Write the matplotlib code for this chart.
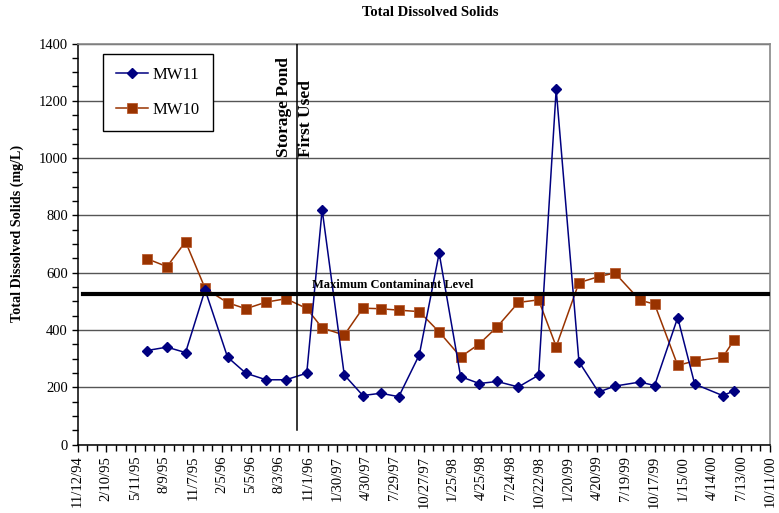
import datetime as dt
import matplotlib
matplotlib.use("Agg")
import matplotlib.pyplot as plt
import matplotlib.dates as mdates
from matplotlib.ticker import FixedLocator, MultipleLocator

plt.rcParams["font.family"] = ["Liberation Serif", "DejaVu Serif"]

# Sampling dates (shared by both wells)
sample_dates = [
    "1995-06-16", "1995-08-18", "1995-10-15", "1995-12-15", "1996-02-23",
    "1996-04-20", "1996-06-22", "1996-08-23", "1996-10-27", "1996-12-14",
    "1997-02-21", "1997-04-20", "1997-06-15", "1997-08-10", "1997-10-13",
    "1997-12-14", "1998-02-19", "1998-04-18", "1998-06-13", "1998-08-18",
    "1998-10-20", "1998-12-14", "1999-02-23", "1999-04-25", "1999-06-15",
    "1999-09-01", "1999-10-17", "1999-12-28", "2000-02-19", "2000-05-16",
    "2000-06-21",
]

# Total dissolved solids, mg/L
mw11 = [328, 340, 321, 540, 305, 249, 226, 226, 249, 820,
        243, 171, 179, 167, 313, 668, 237, 213, 220, 201,
        242, 1240, 289, 183, 204, 218, 206, 443, 211, 171,
        187]
mw10 = [649, 621, 708, 545, 495, 474, 497, 509, 475, 407,
        382, 476, 474, 469, 464, 393, 306, 351, 411, 496,
        505, 342, 565, 586, 599, 504, 490, 276, 292, 304,
        365]

mcl_value = 526
pond_date = "1996-09-26"

tick_labels = ["11/12/94", "2/10/95", "5/11/95", "8/9/95", "11/7/95", "2/5/96",
               "5/5/96", "8/3/96", "11/1/96", "1/30/97", "4/30/97", "7/29/97",
               "10/27/97", "1/25/98", "4/25/98", "7/24/98", "10/22/98", "1/20/99",
               "4/20/99", "7/19/99", "10/17/99", "1/15/00", "4/14/00", "7/13/00",
               "10/11/00"]


def parse_label(s):
    m, d, y = (int(v) for v in s.split("/"))
    return dt.datetime(1900 + y if y > 50 else 2000 + y, m, d)


dates = [dt.datetime.fromisoformat(s) for s in sample_dates]
tick_dates = [parse_label(s) for s in tick_labels]
tick_nums = mdates.date2num(tick_dates)

fig = plt.figure(figsize=(7.79, 5.13), dpi=100)
ax = fig.add_axes([0.0995, 0.1335, 0.889, 0.7817])

ax.set_ylim(0, 1400)
ax.set_xlim(tick_nums[0], tick_nums[-1])

# horizontal gridlines
ax.yaxis.set_major_locator(MultipleLocator(200))
ax.yaxis.set_minor_locator(MultipleLocator(50))
ax.grid(axis="y", which="major", color="#555555", linewidth=1.0, zorder=0)

navy = "#000080"
brown = "#993300"
ax.plot(dates, mw11, color=navy, linewidth=1.1, marker="D", markersize=4.8,
        markerfacecolor=navy, markeredgecolor=navy, label="MW11", zorder=4)
ax.plot(dates, mw10, color=brown, linewidth=1.1, marker="s", markersize=7.4,
        markerfacecolor=brown, markeredgecolor="#b85a2e", markeredgewidth=0.6,
        label="MW10", zorder=3)

# maximum contaminant level
ax.axhline(mcl_value, xmin=0.008, xmax=0.998, color="black", linewidth=3.0, zorder=5)
ax.text(mdates.date2num(dt.datetime(1996, 11, 12)), mcl_value + 10,
        "Maximum Contaminant Level", fontsize=9, fontweight="bold",
        ha="left", va="bottom", zorder=6)

# storage pond first used
pond = mdates.date2num(dt.datetime.fromisoformat(pond_date))
ax.plot([pond, pond], [52, 1400], color="black", linewidth=1.1, zorder=5)
ax.text(pond - 14, 1005, "Storage Pond", rotation=90, fontsize=12.5,
        fontweight="bold", ha="right", va="bottom")
ax.text(pond + 3, 1005, "First Used", rotation=90, fontsize=12.5,
        fontweight="bold", ha="left", va="bottom")

# x axis ticks
ax.xaxis.set_major_locator(FixedLocator(tick_nums))
ax.xaxis.set_minor_locator(FixedLocator(
    [tick_nums[0] + 30 * k for k in range(0, 73) if k % 3]))
ax.set_xticklabels(tick_labels, rotation=90, fontsize=10.5)
ax.tick_params(axis="x", which="major", direction="out", length=5, width=1,
               pad=3)
ax.tick_params(axis="x", which="minor", direction="out", length=4, width=1)
ax.tick_params(axis="y", which="both", direction="out", length=4, width=1,
               labelsize=10.5, pad=3)

for side in ("left", "bottom"):
    ax.spines[side].set_color("black")
    ax.spines[side].set_linewidth(1.1)
for side in ("top", "right"):
    ax.spines[side].set_color("#888888")
    ax.spines[side].set_linewidth(1.2)

ax.set_ylabel("Total Dissolved Solids (mg/L)", fontsize=10.2, fontweight="bold")
ax.yaxis.set_label_coords(-0.077, 0.526)

leg = ax.legend(loc="upper left", bbox_to_anchor=(0.0368, 0.974),
                borderaxespad=0, fontsize=12, frameon=True, fancybox=False,
                edgecolor="black", framealpha=1, labelspacing=1.1,
                handlelength=1.9, handletextpad=0.3, borderpad=0.8)
leg.get_frame().set_linewidth(1.0)

fig.text(430 / 779, 1 - 13 / 513, "Total Dissolved Solids", fontsize=10.5,
         fontweight="bold", ha="center", va="center")

fig.savefig("out.png", dpi=100)
